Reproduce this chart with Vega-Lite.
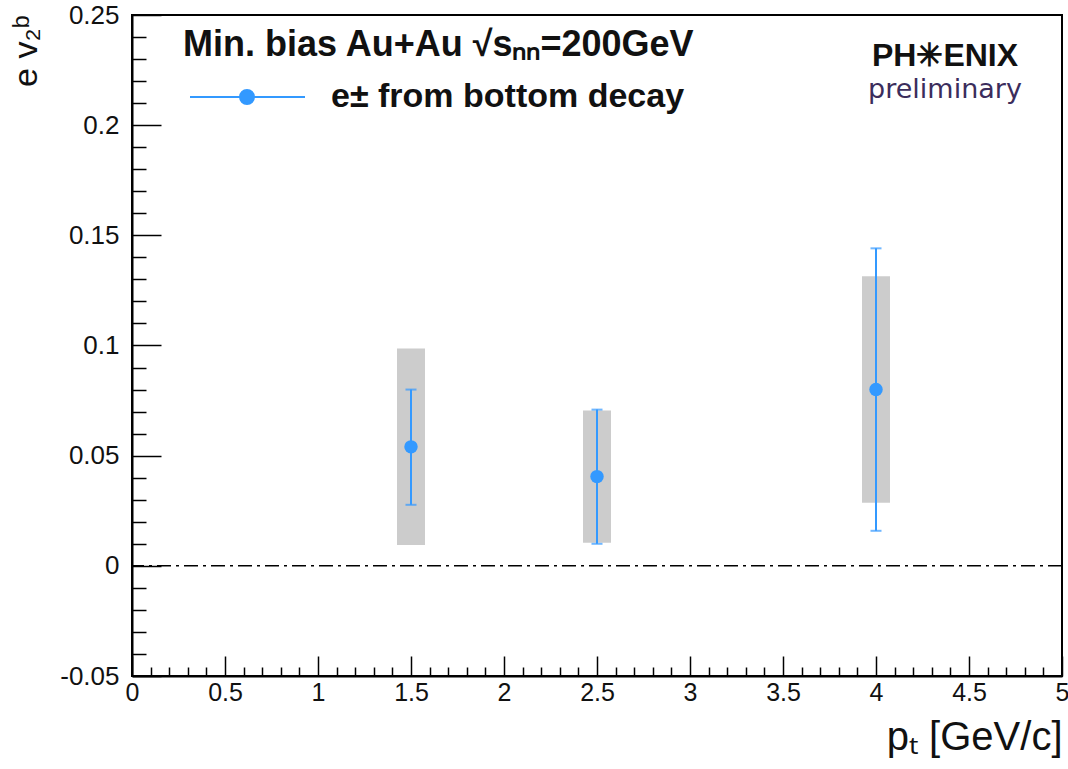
{
  "$schema": "https://vega.github.io/schema/vega-lite/v6.json",
  "width": 930,
  "height": 661,
  "autosize": "none",
  "padding": {"left": 132, "top": 15, "right": 6, "bottom": 93},
  "background": "white",
  "config": {
    "font": "Liberation Sans",
    "view": {"stroke": "black", "strokeWidth": 2},
    "axis": {"grid": false, "domainColor": "black", "domainWidth": 2, "tickColor": "black", "tickWidth": 1.5, "labelColor": "#111", "labelFont": "Liberation Sans", "labelFontSize": 25, "titleFont": "Liberation Sans", "titleFontWeight": "normal", "titleColor": "#111"}
  },
  "title": {
    "text": "PH✳ENIX",
    "subtitle": "preliminary",
    "anchor": "end",
    "frame": "group",
    "orient": "top",
    "font": "Liberation Sans",
    "fontSize": 32,
    "fontWeight": "bold",
    "color": "#111",
    "subtitleFont": "DejaVu Sans",
    "subtitleFontSize": 27,
    "subtitleColor": "#3b2d5c",
    "subtitlePadding": 4,
    "align": "center",
    "dx": -117,
    "dy": 106
  },
  "data": {"values": [
    {"pt": 1.5, "v2": 0.054, "statLo": 0.0277, "statHi": 0.080, "sysLo": 0.0095, "sysHi": 0.0986},
    {"pt": 2.5, "v2": 0.0405, "statLo": 0.010, "statHi": 0.0709, "sysLo": 0.0105, "sysHi": 0.0705},
    {"pt": 4.0, "v2": 0.080, "statLo": 0.0159, "statHi": 0.1441, "sysLo": 0.0286, "sysHi": 0.1314}
  ]},
  "layer": [
    {
      "mark": {"type": "bar", "width": 28, "color": "#cccccc"},
      "encoding": {
        "x": {"field": "pt", "type": "quantitative", "scale": {"domain": [0, 5], "nice": false, "zero": false, "padding": 0},
          "axis": {
            "orient": "bottom",
            "title": "pₜ [GeV/c]",
            "titleFontSize": 40,
            "titleAnchor": "end",
            "titlePadding": 1,
            "tickCount": 100,
            "values": [0,0.1,0.2,0.3,0.4,0.5,0.6,0.7,0.8,0.9,1,1.1,1.2,1.3,1.4,1.5,1.6,1.7,1.8,1.9,2,2.1,2.2,2.3,2.4,2.5,2.6,2.7,2.8,2.9,3,3.1,3.2,3.3,3.4,3.5,3.6,3.7,3.8,3.9,4,4.1,4.2,4.3,4.4,4.5,4.6,4.7,4.8,4.9,5],
            "tickSize": {"condition": {"test": "abs(datum.value*2 - round(datum.value*2)) < 1e-6", "value": -20}, "value": -9},
            "labelExpr": "abs(datum.value*2 - round(datum.value*2)) < 1e-6 ? format(datum.value, '~g') : ''",
            "labelPadding": 24,
            "labelOverlap": false,
            "labelFlush": false
          }},
        "y": {"field": "sysLo", "type": "quantitative", "scale": {"domain": [-0.05, 0.25], "nice": false, "zero": false, "padding": 0},
          "axis": {
            "orient": "left",
            "title": "e v₂ᵇ",
            "titleFontSize": 34,
            "titleAnchor": "end",
            "titleAngle": 270,
            "titlePadding": 16,
            "tickCount": 100,
            "values": [-0.05,-0.04,-0.03,-0.02,-0.01,0,0.01,0.02,0.03,0.04,0.05,0.06,0.07,0.08,0.09,0.1,0.11,0.12,0.13,0.14,0.15,0.16,0.17,0.18,0.19,0.2,0.21,0.22,0.23,0.24,0.25],
            "tickSize": {"condition": {"test": "abs(datum.value*20 - round(datum.value*20)) < 1e-6", "value": -29}, "value": -14},
            "labelExpr": "abs(datum.value*20 - round(datum.value*20)) < 1e-6 ? replace(format(datum.value, '~g'), '−', '-') : ''",
            "labelFontSize": 26,
            "labelPadding": 42,
            "labelOverlap": false,
            "labelFlush": false
          }},
        "y2": {"field": "sysHi"}
      }
    },
    {
      "data": {"values": [{}]},
      "mark": {"type": "rule", "color": "black", "strokeWidth": 1.5, "strokeDash": [14, 5, 3, 5]},
      "encoding": {"y": {"datum": 0}}
    },
    {
      "mark": {"type": "rule", "color": "#3399ff", "strokeWidth": 2},
      "encoding": {
        "x": {"field": "pt", "type": "quantitative"},
        "y": {"field": "statLo", "type": "quantitative"},
        "y2": {"field": "statHi"}
      }
    },
    {
      "mark": {"type": "tick", "orient": "horizontal", "color": "#3399ff", "size": 11, "thickness": 2},
      "encoding": {
        "x": {"field": "pt", "type": "quantitative"},
        "y": {"field": "statLo", "type": "quantitative"}
      }
    },
    {
      "mark": {"type": "tick", "orient": "horizontal", "color": "#3399ff", "size": 11, "thickness": 2},
      "encoding": {
        "x": {"field": "pt", "type": "quantitative"},
        "y": {"field": "statHi", "type": "quantitative"}
      }
    },
    {
      "mark": {"type": "point", "filled": true, "opacity": 1, "size": 180, "shape": "circle"},
      "encoding": {
        "x": {"field": "pt", "type": "quantitative"},
        "y": {"field": "v2", "type": "quantitative"},
        "color": {"datum": "e± from bottom decay", "scale": {"range": ["#3399ff"]},
          "legend": {
            "orient": "none",
            "legendX": 51,
            "legendY": 13,
            "padding": 0,
            "title": "Min. bias Au+Au √sₙₙ=200GeV",
            "titleFont": "Liberation Sans",
            "titleFontSize": 36,
            "titleFontWeight": "bold",
            "titleColor": "#111",
            "titlePadding": 16,
            "titleLimit": 0,
            "labelLimit": 0,
            "labelFont": "Liberation Sans",
            "labelFontSize": 34,
            "labelFontWeight": "bold",
            "labelColor": "#111",
            "labelOffset": 114,
            "symbolType": "M-1,0L10.5,0M4.0,0A0.7,0.7,0,1,1,5.4,0A0.7,0.7,0,1,1,4.0,0Z",
            "symbolSize": 400,
            "symbolStrokeWidth": 2,
            "symbolStrokeColor": "#3399ff",
            "symbolFillColor": "#3399ff",
            "encode": {"symbols": {"update": {"size": {"value": 400}, "stroke": {"value": "#3399ff"}, "strokeWidth": {"value": 2}, "fill": {"value": "#3399ff"}, "opacity": {"value": 1}}}}
          }}
      }
    }
  ]
}
